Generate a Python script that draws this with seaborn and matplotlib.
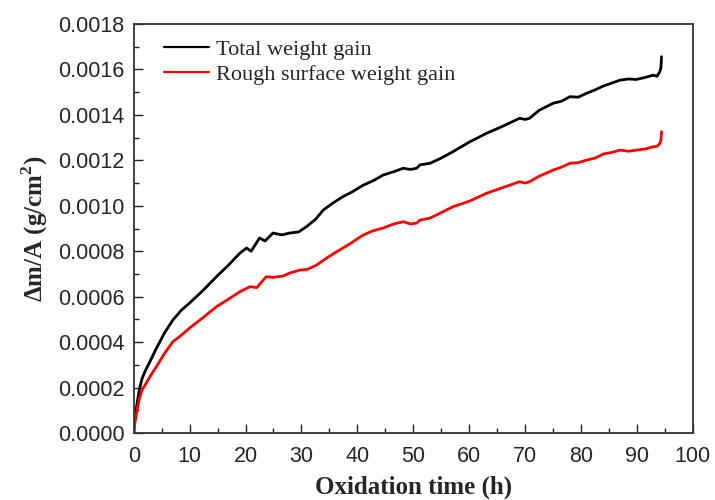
import pandas as pd
import matplotlib.pyplot as plt
import seaborn as sns
from matplotlib.ticker import MultipleLocator

# Values
time_total = [0, 0.3, 0.6, 1.0, 1.5, 2.0, 2.9, 4.0, 5.5, 7.0, 8.5, 10.0, 12.5, 14.8, 17.0, 19.0,
              20.2, 21.0, 22.5, 23.5, 24.9, 26.5, 27.9, 29.5, 30.9, 32.5, 33.9, 35.5, 37.4, 39.0,
              41.0, 42.8, 44.6, 46.5, 48.2, 49.5, 50.6, 51.2, 53.0, 55.0, 57.1, 60.0, 63.1,
              66.0, 69.0, 70.0, 70.8, 72.5, 75.0, 76.5, 78.0, 79.5, 81.0, 82.5, 84.0, 85.5,
              87.0, 88.5, 89.9, 91.5, 92.9, 93.6, 94.1, 94.3, 94.4]
weight_total = [0, 0.00008, 0.00013, 0.00019, 0.00024, 0.00027, 0.000314, 0.00037, 0.00044,
                0.000497, 0.00054, 0.000572, 0.00063, 0.000688, 0.00074, 0.000792,
                0.000814, 0.00080, 0.000858, 0.000845, 0.00088, 0.000872, 0.00088, 0.000885,
                0.000908, 0.00094, 0.000981, 0.00101, 0.00104, 0.00106,
                0.00109, 0.00111, 0.001135, 0.00115, 0.001165, 0.00116, 0.001165, 0.00118,
                0.001187, 0.00121, 0.001238, 0.00128, 0.001319,
                0.00135, 0.001385, 0.00138, 0.001385, 0.00142, 0.001451, 0.00146, 0.00148,
                0.001478, 0.001495, 0.00151, 0.001527, 0.00154,
                0.001553, 0.001558, 0.001556, 0.001565, 0.001575, 0.00157, 0.00159, 0.00161,
                0.001656]

time_rough = [0, 0.3, 0.6, 1.0, 1.5, 2.0, 2.9, 4.0, 5.5, 7.0, 8.2, 10.0, 12.5, 14.8, 17.0,
              19.0, 20.8, 22.0, 23.7, 25.0, 26.7, 28.0, 29.7, 31.0, 32.7, 34.5, 36.3, 38.5,
              41.0, 42.8, 44.6, 46.5, 48.2, 49.5, 50.6, 51.2, 53.0, 55.0, 57.1, 60.0, 63.1,
              66.0, 69.0, 70.0, 70.8, 72.5, 75.0, 76.5, 78.0, 79.5, 81.0, 82.5, 84.0, 85.5,
              87.0, 88.5, 89.9, 91.5, 92.9, 93.6, 94.1, 94.3, 94.4]
weight_rough = [0, 0.00006, 0.0001, 0.00015, 0.00019, 0.00021, 0.000248, 0.00029, 0.00035,
                0.000402, 0.000424, 0.000462, 0.00051, 0.000556, 0.00059,
                0.000622, 0.000644, 0.00064, 0.000688, 0.000685, 0.000691, 0.000705, 0.000717,
                0.00072, 0.000739, 0.00077, 0.000798, 0.00083,
                0.000871, 0.00089, 0.000902, 0.00092, 0.00093, 0.00092, 0.000924, 0.000937,
                0.000946, 0.00097, 0.000996, 0.00102, 0.001055,
                0.00108, 0.001106, 0.0011, 0.001106, 0.00113, 0.001157, 0.00117, 0.001187,
                0.00119, 0.001201, 0.00121, 0.001228, 0.001235,
                0.001245, 0.00124, 0.001245, 0.00125, 0.00126, 0.001262, 0.001275, 0.00129,
                0.001326]

df_total = pd.DataFrame({'time': time_total, 'gain': weight_total})
df_rough = pd.DataFrame({'time': time_rough, 'gain': weight_rough})

sns.set_style('ticks')
plt.rcParams['font.family'] = ['Liberation Sans', 'DejaVu Sans']
plt.rcParams['xtick.direction'] = 'in'
plt.rcParams['ytick.direction'] = 'in'

fig = plt.figure(figsize=(7.15, 5), dpi=100)
ax = fig.add_axes([0.187, 0.134, 0.782, 0.818])

sns.lineplot(data=df_total, x='time', y='gain', color='black', linewidth=2.0,
             label='Total weight gain', ax=ax)
sns.lineplot(data=df_rough, x='time', y='gain', color='#ff0000', linewidth=2.0,
             label='Rough surface weight gain', ax=ax)

ax.set_xlim(0, 100)
ax.set_ylim(0, 0.0018)
ax.xaxis.set_major_locator(MultipleLocator(10))
ax.xaxis.set_minor_locator(MultipleLocator(5))
ax.yaxis.set_major_locator(MultipleLocator(0.0002))
ax.yaxis.set_minor_locator(MultipleLocator(0.0001))
ax.yaxis.set_major_formatter(plt.FormatStrFormatter('%.4f'))
ax.tick_params(which='major', length=6.5, width=1, labelsize=15.5, color='#222222')
ax.tick_params(which='minor', length=3.5, width=1, color='#222222')
ax.tick_params(axis='x', which='major', pad=9.5)
ax.tick_params(axis='y', which='major', pad=6.5)
for s in ax.spines.values():
    s.set_linewidth(1.3)
    s.set_color('#333333')

serif = ['Liberation Serif', 'DejaVu Serif']
ax.set_xlabel('Oxidation time (h)', fontsize=18, fontweight='bold', family=serif, labelpad=6)
ax.set_ylabel(r'Δm/A (g/cm$^\mathregular{2}$)', fontsize=18, fontweight='bold', family=serif,
              labelpad=6)

leg = ax.legend(loc='upper left', bbox_to_anchor=(0.055, 0.963), frameon=False,
                handlelength=2.0, handletextpad=0.3, borderaxespad=0, borderpad=0,
                labelspacing=0.22, prop={'family': serif, 'size': 16})
for line in leg.get_lines():
    line.set_linewidth(1.6)

fig.savefig('out.png', dpi=100)
